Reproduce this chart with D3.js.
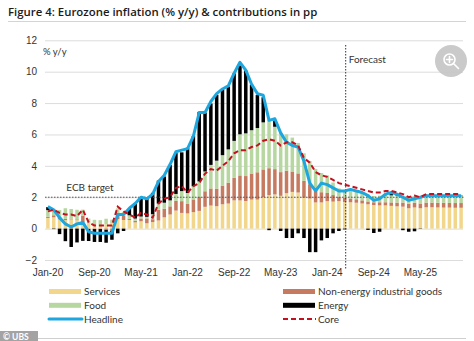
<!DOCTYPE html>
<html>
<head>
<meta charset="utf-8">
<script src="https://cdn.jsdelivr.net/npm/d3@7"></script>
<style>
  body { margin: 0; background: #fff; }
  svg { display: block; font-family: Lato, "Open Sans", sans-serif; }
</style>
</head>
<body>
<script>
const width = 474,
    height = 341;

// Monthly categories, Jan-20 .. Dec-25
const months = d3.utcMonths(new Date(Date.UTC(2020, 0, 1)), new Date(Date.UTC(2026, 0, 1)))
    .map(d3.utcFormat('%b-%y'));

const xTicks = ['Jan-20', 'Sep-20', 'May-21', 'Jan-22', 'Sep-22', 'May-23', 'Jan-24', 'Sep-24', 'May-25'];
const yTicks = [-2, 0, 2, 4, 6, 8, 10, 12];
const forecastStart = 'Apr-24';
const ecbTarget = 2;

// contributions in pp
const services = [
    0.68, 0.72, 0.59, 0.54, 0.59, 0.54, 0.41, 0.32, 0.22, 0.18, 0.27, 0.32,
    0.60, 0.55, 0.55, 0.40, 0.47, 0.34, 0.42, 0.52, 0.72, 0.90, 1.15, 1.00,
    0.97, 1.05, 1.13, 1.39, 1.47, 1.43, 1.55, 1.60, 1.80, 1.80, 1.76, 1.85,
    1.85, 2.00, 2.13, 2.18, 2.09, 2.26, 2.34, 2.30, 1.97, 1.92, 1.67, 1.67,
    1.75, 1.72, 1.75, 1.70, 1.68, 1.65, 1.60, 1.55, 1.50, 1.48, 1.48, 1.45,
    1.42, 1.40, 1.30, 1.35, 1.30, 1.36, 1.36, 1.35, 1.34, 1.34, 1.33, 1.33
];
const neig = [
    0.08, 0.13, 0.13, 0.08, 0.05, 0.05, 0.42, -0.03, -0.03, -0.03, -0.08, -0.13,
    0.39, 0.26, 0.08, 0.10, 0.18, 0.31, 0.18, 0.68, 0.55, 0.52, 0.62, 0.75,
    0.60, 0.81, 0.88, 0.99, 1.09, 1.12, 1.17, 1.33, 1.43, 1.59, 1.59, 1.66,
    1.74, 1.77, 1.72, 1.61, 1.51, 1.43, 1.30, 1.22, 1.07, 0.91, 0.75, 0.65,
    0.52, 0.42, 0.29, 0.25, 0.24, 0.22, 0.20, 0.18, 0.18, 0.20, 0.20, 0.22,
    0.24, 0.26, 0.28, 0.30, 0.30, 0.30, 0.30, 0.30, 0.30, 0.30, 0.30, 0.30
];
const food = [
    0.42, 0.40, 0.46, 0.68, 0.61, 0.61, 0.38, 0.32, 0.34, 0.36, 0.36, 0.25,
    0.30, 0.26, 0.22, 0.14, 0.12, 0.10, 0.32, 0.40, 0.38, 0.38, 0.44, 0.64,
    0.70, 0.84, 1.00, 1.26, 1.50, 1.78, 1.96, 2.12, 2.36, 2.62, 2.72, 2.76,
    2.82, 3.00, 3.10, 2.70, 2.50, 2.32, 2.16, 1.94, 1.76, 1.48, 1.38, 1.22,
    1.12, 0.80, 0.52, 0.50, 0.48, 0.47, 0.46, 0.45, 0.40, 0.42, 0.45, 0.45,
    0.45, 0.44, 0.42, 0.42, 0.42, 0.43, 0.43, 0.43, 0.44, 0.44, 0.44, 0.44
];
const energy = [
    0.19, -0.03, -0.35, -0.80, -1.17, -0.88, -0.78, -0.76, -0.82, -0.82, -0.82, -0.58,
    -0.30, -0.15, 0.41, 0.99, 1.24, 1.20, 1.36, 1.46, 1.67, 2.25, 2.60, 2.47,
    2.88, 3.20, 4.43, 3.75, 3.91, 4.20, 4.20, 4.00, 4.30, 4.50, 4.00, 2.90,
    2.10, 1.60, -0.10, 0.40, -0.15, -0.60, -0.60, -0.30, -0.60, -1.50, -1.50, -0.75,
    -0.60, -0.30, -0.15, -0.05, 0.10, 0.06, 0.04, -0.08, -0.28, -0.20, 0.07, 0.18,
    0.09, -0.10, -0.20, -0.17, -0.02, 0.01, 0.01, 0.02, 0.02, 0.02, 0.03, 0.03
];

// % y/y
const headline = [
    1.4, 1.2, 0.7, 0.3, 0.1, 0.3, 0.4, -0.2, -0.3, -0.3, -0.3, -0.3,
    0.9, 0.9, 1.3, 1.6, 2.0, 1.9, 2.2, 3.0, 3.4, 4.1, 4.9, 5.0,
    5.1, 5.9, 7.4, 7.4, 8.1, 8.6, 8.9, 9.1, 9.9, 10.6, 10.1, 9.2,
    8.6, 8.5, 6.9, 7.0, 6.1, 5.5, 5.3, 5.2, 4.3, 2.9, 2.4, 2.9,
    2.8, 2.6, 2.4, 2.4, 2.5, 2.4, 2.3, 2.1, 1.8, 1.9, 2.2, 2.3,
    2.2, 2.0, 1.8, 1.9, 2.0, 2.1, 2.1, 2.1, 2.1, 2.1, 2.1, 2.1
];
const core = [
    1.1, 1.2, 1.0, 0.9, 0.9, 0.8, 1.2, 0.4, 0.2, 0.2, 0.2, 0.2,
    1.4, 1.1, 0.9, 0.7, 1.0, 0.9, 0.7, 1.6, 1.9, 2.0, 2.6, 2.7,
    2.3, 2.7, 2.9, 3.5, 3.8, 3.7, 4.0, 4.3, 4.8, 5.0, 5.0, 5.2,
    5.3, 5.6, 5.7, 5.6, 5.3, 5.5, 5.5, 5.3, 4.5, 4.2, 3.6, 3.4,
    3.3, 3.1, 2.9, 2.8, 2.7, 2.6, 2.5, 2.4, 2.3, 2.3, 2.4, 2.4,
    2.3, 2.2, 2.0, 2.1, 2.0, 2.2, 2.2, 2.2, 2.2, 2.2, 2.2, 2.2
];

const keys = ['services', 'neig', 'food', 'energy'];
const colors = {
    services: '#f1d68b',
    neig: '#c67b61',
    food: '#b7d7a1',
    energy: '#000000',
    headline: '#1ea6de',
    core: '#c4101f'
};

const rows = months.map((m, i) => ({
    month: m,
    services: services[i],
    neig: neig[i],
    food: food[i],
    energy: energy[i]
}));

const margin = { left: 45, right: 10, top: 40, bottom: 81 };

const x = d3.scaleBand()
    .domain(months)
    .range([margin.left, width - margin.right])
    .paddingInner(0.4)
    .paddingOuter(0.2);

const y = d3.scaleLinear()
    .domain([-2, 12])
    .range([260, 40.3]);

const cx = m => x(m) + x.bandwidth() / 2;

const svg = d3.select('body').append('svg')
    .attr('width', width)
    .attr('height', height);

// title
svg.append('text')
    .attr('x', 8)
    .attr('y', 15.5)
    .style('font-family', '"Open Sans", sans-serif')
    .style('font-weight', 600)
    .style('font-size', '11.4px')
    .style('fill', '#1a1a1a')
    .text('Figure 4: Eurozone inflation (% y/y) & contributions in pp');

svg.append('line')
    .attr('x1', 8).attr('x2', 466)
    .attr('y1', 21.5).attr('y2', 21.5)
    .style('stroke', '#d4d4d4')
    .style('stroke-width', 1.2);

// y axis + gridlines
const yAxis = svg.append('g')
    .attr('transform', `translate(${margin.left},0)`)
    .call(d3.axisLeft(y)
        .tickValues(yTicks)
        .tickSize(-(width - margin.right - margin.left - 1))
        .tickPadding(8)
        .tickFormat(d3.format('d')));

yAxis.select('.domain').remove();
yAxis.selectAll('line')
    .style('stroke', '#dcdcdc')
    .style('stroke-width', 1);
yAxis.selectAll('text')
    .style('font-size', '10px')
    .style('fill', '#333');

// x axis labels
const xAxis = svg.append('g')
    .attr('transform', `translate(0,${y(-2)})`)
    .call(d3.axisBottom(x)
        .tickValues(xTicks)
        .tickSize(0)
        .tickPadding(8.5));

xAxis.select('.domain').remove();
xAxis.selectAll('text')
    .style('font-size', '10px')
    .style('fill', '#333');

svg.append('text')
    .attr('x', 43)
    .attr('y', 55)
    .style('font-size', '9.5px')
    .style('fill', '#333')
    .text('% y/y');

// stacked contribution bars
const series = d3.stack()
    .keys(keys)
    .offset(d3.stackOffsetDiverging)(rows);

svg.append('g')
    .selectAll('g')
    .data(series)
    .join('g')
    .style('fill', d => colors[d.key])
    .selectAll('rect')
    .data(d => d)
    .join('rect')
    .attr('x', d => x(d.data.month))
    .attr('width', x.bandwidth())
    .attr('y', d => y(Math.max(d[0], d[1])))
    .attr('height', d => Math.abs(y(d[0]) - y(d[1])));

// ECB target
svg.append('line')
    .attr('x1', margin.left).attr('x2', width - margin.right)
    .attr('y1', y(ecbTarget)).attr('y2', y(ecbTarget))
    .style('stroke', '#555')
    .style('stroke-width', 1)
    .style('stroke-dasharray', '1.5,1.5');

svg.append('text')
    .attr('x', 90)
    .attr('y', y(ecbTarget) - 6)
    .attr('text-anchor', 'middle')
    .style('font-size', '10px')
    .style('fill', '#333')
    .text('ECB target');

// forecast divider
const fx = cx(forecastStart) + 1;
svg.append('line')
    .attr('x1', fx).attr('x2', fx)
    .attr('y1', 45).attr('y2', 270)
    .style('stroke', '#333')
    .style('stroke-width', 1)
    .style('stroke-dasharray', '1.5,1.5');

svg.append('text')
    .attr('x', fx + 3)
    .attr('y', 62.5)
    .style('font-size', '10px')
    .style('fill', '#333')
    .text('Forecast');

// lines
const line = d3.line()
    .x((d, i) => cx(months[i]))
    .y(d => y(d));

svg.append('path')
    .datum(headline)
    .attr('d', line)
    .style('fill', 'none')
    .style('stroke', colors.headline)
    .style('stroke-width', 3)
    .style('stroke-linejoin', 'round');

svg.append('path')
    .datum(core)
    .attr('d', line)
    .style('fill', 'none')
    .style('stroke', colors.core)
    .style('stroke-width', 2)
    .style('stroke-dasharray', '5,3');

// legend
const legendItems = [
    { label: 'Services', key: 'services', type: 'bar', col: 0, row: 0 },
    { label: 'Non-energy industrial goods', key: 'neig', type: 'bar', col: 1, row: 0 },
    { label: 'Food', key: 'food', type: 'bar', col: 0, row: 1 },
    { label: 'Energy', key: 'energy', type: 'bar', col: 1, row: 1 },
    { label: 'Headline', key: 'headline', type: 'line', col: 0, row: 2 },
    { label: 'Core', key: 'core', type: 'dash', col: 1, row: 2 }
];

const legend = svg.append('g')
    .selectAll('g')
    .data(legendItems)
    .join('g')
    .attr('transform', d => `translate(${d.col ? 283 : 49},${291.5 + d.row * 13.8})`);

legend.filter(d => d.type === 'bar')
    .append('rect')
    .attr('x', 0).attr('y', -2.5)
    .attr('width', 32).attr('height', 5)
    .style('fill', d => colors[d.key]);

legend.filter(d => d.type !== 'bar')
    .append('line')
    .attr('x1', 0).attr('x2', 33)
    .style('stroke', d => colors[d.key])
    .style('stroke-width', d => d.type === 'line' ? 3 : 2)
    .style('stroke-linecap', d => d.type === 'line' ? 'round' : 'butt')
    .style('stroke-dasharray', d => d.type === 'dash' ? '5,3' : null);

legend.append('text')
    .attr('x', 35)
    .attr('y', 3.6)
    .style('font-size', '10px')
    .style('fill', '#333')
    .text(d => d.label);

// source tag
svg.append('rect')
    .attr('x', 0).attr('y', 331)
    .attr('width', 38).attr('height', 10)
    .style('fill', '#a3a3a3');

svg.append('text')
    .attr('x', 3)
    .attr('y', 339.5)
    .style('font-size', '8.5px')
    .style('font-weight', 700)
    .style('fill', '#fff')
    .text('© UBS');

svg.append('line')
    .attr('x1', 38).attr('x2', 466)
    .attr('y1', 338.5).attr('y2', 338.5)
    .style('stroke', '#cfcfcf')
    .style('stroke-width', 1);

// zoom button
const zoomIcon = svg.append('g')
    .attr('transform', 'translate(451,61)');

zoomIcon.append('circle')
    .attr('r', 16)
    .style('fill', '#c4c4c4')
    .style('opacity', 0.9);

zoomIcon.append('circle')
    .attr('cx', -1.5).attr('cy', -1.5)
    .attr('r', 5.5)
    .style('fill', 'none')
    .style('stroke', '#fff')
    .style('stroke-width', 1.6);

zoomIcon.append('path')
    .attr('d', 'M2.5,2.5L7.5,7.5M-4.5,-1.5H1.5M-1.5,-4.5V1.5')
    .style('stroke', '#fff')
    .style('stroke-width', 1.6)
    .style('stroke-linecap', 'round');
</script>
</body>
</html>
